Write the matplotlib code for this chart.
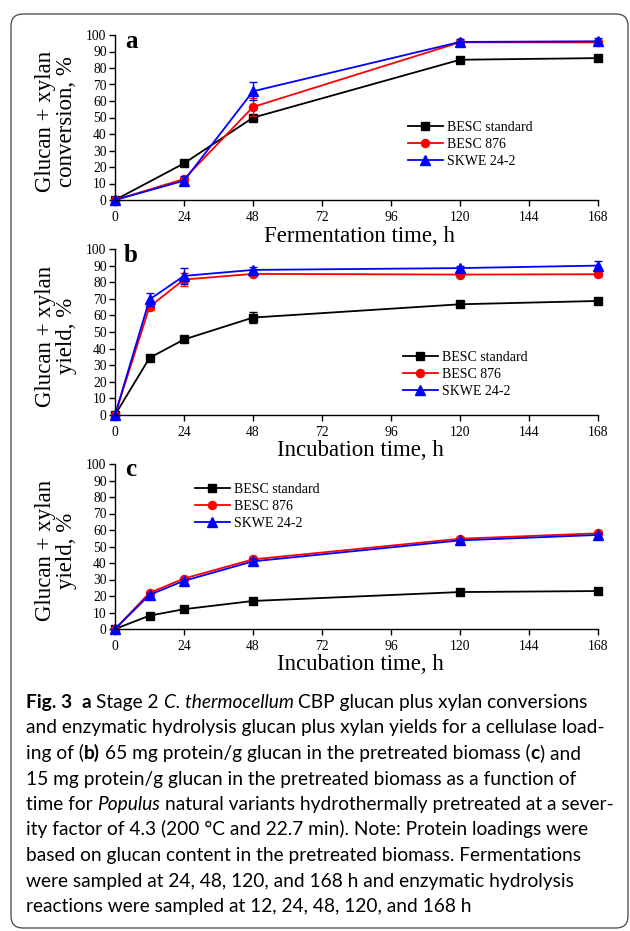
import numpy as np
import matplotlib
matplotlib.use('Agg')
import matplotlib.pyplot as plt
from matplotlib.patches import FancyBboxPatch
from matplotlib.transforms import IdentityTransform

# ---- data ----
ferm_time = [0, 24, 48, 120, 168]
a_std = [0, 22.2, 49.9, 85.0, 86.0]
a_std_err = [0, 1.0, 0.8, 0.8, 0.8]
a_876 = [0, 12.7, 56.4, 95.6, 95.5]
a_876_err = [0, 1.5, 5.5, 0.8, 0.8]
a_skwe = [0, 11.7, 65.9, 95.8, 96.2]
a_skwe_err = [0, 2.7, 5.4, 1.5, 1.8]

incub_time = [0, 12, 24, 48, 120, 168]
b_std = [0, 34.4, 45.5, 58.7, 66.7, 68.7]
b_std_err = [0, 0.8, 0.8, 3.4, 1.0, 1.0]
b_876 = [0, 65.2, 81.6, 85.0, 84.6, 84.8]
b_876_err = [0, 2.0, 4.0, 1.2, 1.0, 1.0]
b_skwe = [0, 69.6, 83.8, 87.4, 88.5, 90.0]
b_skwe_err = [0, 4.0, 4.7, 2.0, 1.5, 2.5]

c_std = [0, 8.1, 12.0, 17.0, 22.4, 23.0]
c_std_err = [0, 0.8, 0.8, 0.8, 0.8, 0.8]
c_876 = [0, 21.9, 30.6, 42.2, 54.7, 58.0]
c_876_err = [0, 0.8, 1.0, 1.2, 1.0, 1.0]
c_skwe = [0, 20.7, 29.2, 41.0, 53.7, 57.0]
c_skwe_err = [0, 1.0, 1.2, 1.2, 1.0, 1.2]

series_names = ['BESC standard', 'BESC 876', 'SKWE 24-2']
series_colors = ['black', 'red', 'blue']
series_markers = ['s', 'o', '^']
x_ticks = [0, 24, 48, 72, 96, 120, 144, 168]
y_ticks = list(range(0, 101, 10))

W, H = 630, 931
plt.rcParams['font.family'] = ['Liberation Serif', 'DejaVu Serif']
fig = plt.figure(figsize=(W / 100, H / 100), dpi=100)
fig.patch.set_facecolor('white')


def fx(px):
    return px / W


def fy(py):
    return 1 - py / H


def panel(top, bottom, x, ys, errs, letter, ylab2, xlab, leg_x, leg_top):
    ax = fig.add_axes([fx(115), fy(bottom), fx(598) - fx(115), (bottom - top) / H])
    handles = []
    for y, e, name, col, mk in zip(ys, errs, series_names, series_colors, series_markers):
        ax.errorbar(x, y, yerr=e, fmt='none', ecolor=col, elinewidth=1.0,
                    capsize=3, capthick=1.0, clip_on=False)
        ms = 6.5 if mk == '^' else 5.8
        h, = ax.plot(x, y, color=col, lw=1.3, marker=mk, ms=ms, label=name, clip_on=False)
        handles.append(h)
    ax.set_xlim(0, 168)
    ax.set_ylim(0, 100)
    ax.set_xticks(x_ticks)
    ax.set_yticks(y_ticks)
    for s in ['top', 'right']:
        ax.spines[s].set_visible(False)
    for s in ['left', 'bottom']:
        ax.spines[s].set_linewidth(1.0)
    ax.tick_params(direction='out', length=4, width=1.0, labelsize=9.8)
    ax.tick_params(axis='x', pad=4)
    ax.tick_params(axis='y', pad=2)
    ax.patch.set_alpha(0)
    fig.text(fx(131), fy(top + 6), letter, fontsize=18,
             fontweight='bold', ha='center', va='center')
    fig.text(fx(56), fy((top + bottom) / 2 + 4), 'Glucan + xylan\n' + ylab2,
             rotation=90, fontsize=16.5, ha='center', va='center',
             multialignment='center', linespacing=1.0)
    fig.text(fx(360), fy(bottom + 36), xlab, fontsize=16.5, ha='center', va='center')
    ax.legend(handles=handles, loc='upper left', bbox_to_anchor=(fx(leg_x), fy(leg_top)),
              bbox_transform=fig.transFigure, frameon=False, fontsize=10,
              handlelength=2.5, handletextpad=0.3, borderpad=0, borderaxespad=0,
              labelspacing=0.28)
    return ax


panel(35, 200, ferm_time, [a_std, a_876, a_skwe], [a_std_err, a_876_err, a_skwe_err],
      'a', 'conversion, %', 'Fermentation time, h', 408, 121)
panel(249, 415, incub_time, [b_std, b_876, b_skwe], [b_std_err, b_876_err, b_skwe_err],
      'b', 'yield, %', 'Incubation time, h', 403, 351)
panel(464, 629, incub_time, [c_std, c_876, c_skwe], [c_std_err, c_876_err, c_skwe_err],
      'c', 'yield, %', 'Incubation time, h', 195, 483)

# ---- caption ----
cap_lines = [
    [('Fig. 3', 'b'), ('  ', 'n'), ('a', 'b'), (' Stage 2 ', 'n'), ('C. thermocellum', 'i'),
     (' CBP glucan plus xylan conversions', 'n')],
    [('and enzymatic hydrolysis glucan plus xylan yields for a cellulase load-', 'n')],
    [('ing of (', 'n'), ('b)', 'b'), (' 65 mg protein/g glucan in the pretreated biomass (', 'n'),
     ('c', 'b'), (') and', 'n')],
    [('15 mg protein/g glucan in the pretreated biomass as a function of', 'n')],
    [('time for ', 'n'), ('Populus', 'i'),
     (' natural variants hydrothermally pretreated at a sever-', 'n')],
    [('ity factor of 4.3 (200 \u00b0C and 22.7 min). Note: Protein loadings were', 'n')],
    [('based on glucan content in the pretreated biomass. Fermentations', 'n')],
    [('were sampled at 24, 48, 120, and 168 h and enzymatic hydrolysis', 'n')],
    [('reactions were sampled at 12, 24, 48, 120, and 168 h', 'n')],
]
cap_font = 'Lato'
renderer = fig.canvas.get_renderer()


def style_kw(size, style):
    kw = dict(fontsize=size, family=cap_font)
    if style == 'b':
        kw['fontweight'] = 'bold'
    if style == 'i':
        kw['fontstyle'] = 'italic'
    return kw


def text_w(s, size, style):
    t = fig.text(0, 0, s, **style_kw(size, style))
    w = t.get_window_extent(renderer).width
    t.remove()
    return w


w10 = text_w(cap_lines[1][0][0], 10, 'n')
cap_size = 10 * 579 / w10
space_w = {st: text_w('x x', cap_size, st) - text_w('xx', cap_size, st) for st in 'nbi'}

for i, runs in enumerate(cap_lines):
    xp = 26
    yp = 708 + 25.5 * i
    for s, st in runs:
        core = s.strip(' ')
        if not core:
            xp += len(s) * space_w[st]
            continue
        lead = len(s) - len(s.lstrip(' '))
        trail = len(s) - len(s.rstrip(' '))
        xp += lead * space_w[st]
        t = fig.text(fx(xp), fy(yp), core, va='baseline', ha='left', **style_kw(cap_size, st))
        xp += t.get_window_extent(renderer).width
        xp += trail * space_w[st]

# ---- rounded frame ----
frame = FancyBboxPatch((11, H - 928), 628 - 11, 928 - 14,
                       boxstyle='round,pad=0,rounding_size=12',
                       transform=IdentityTransform(), fill=False,
                       edgecolor='#444444', lw=0.9)
fig.patches.append(frame)

fig.savefig('out.png', dpi=100)
